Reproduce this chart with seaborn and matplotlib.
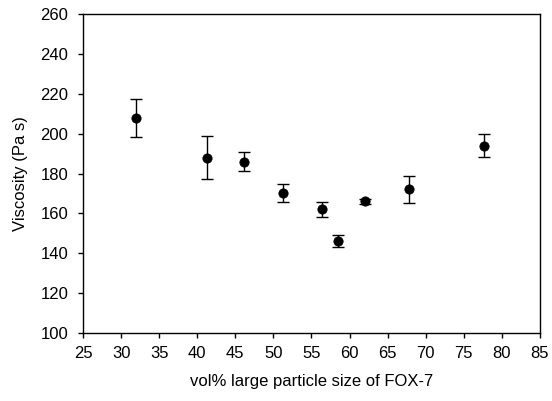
import numpy as np
import pandas as pd
import matplotlib
matplotlib.use("Agg")
import matplotlib.pyplot as plt
import seaborn as sns

sns.set_style("ticks", {'text.color': 'black', 'axes.labelcolor': 'black',
                        'xtick.color': 'black', 'ytick.color': 'black',
                        'axes.edgecolor': 'black'})
plt.rcParams['font.family'] = ['Liberation Sans', 'DejaVu Sans']

# vol% large particle size vs viscosity
vol_pct = [32.0, 41.3, 46.1, 51.2, 56.4, 58.5, 62.1, 67.8, 77.6]
viscosity = [208, 188, 186, 170, 162, 146, 166, 172, 194]
err = [9.5, 11, 4.8, 4.5, 3.8, 3, 1.2, 7, 5.8]

df = pd.DataFrame({'vol': vol_pct, 'visc': viscosity, 'err': err})

fig, ax = plt.subplots(figsize=(5.52, 4.01), dpi=100)
ax.errorbar(df.vol, df.visc, yerr=df.err, fmt='none', ecolor='black',
            elinewidth=1, capsize=4, capthick=1, zorder=2)
sns.scatterplot(data=df, x='vol', y='visc', color='black', s=45,
                edgecolor='black', ax=ax, zorder=3)

ax.set_xlim(25, 85)
ax.set_ylim(100, 260)
ax.set_xticks(np.arange(25, 86, 5))
ax.set_yticks(np.arange(100, 261, 20))
ax.set_xlabel('vol% large particle size of FOX-7', fontsize=12, labelpad=9, color='black')
ax.set_ylabel('Viscosity (Pa s)', fontsize=12, labelpad=9, color='black')
ax.tick_params(labelsize=12, direction='out', length=3.6, width=1,
               color='black', labelcolor='black')
ax.tick_params(axis='x', pad=6)
ax.tick_params(axis='y', pad=7)
for s in ax.spines.values():
    s.set_linewidth(1)
    s.set_color('black')

fig.subplots_adjust(left=0.1504, right=0.978, top=0.965, bottom=0.1696)
fig.savefig('out.png', dpi=100)
